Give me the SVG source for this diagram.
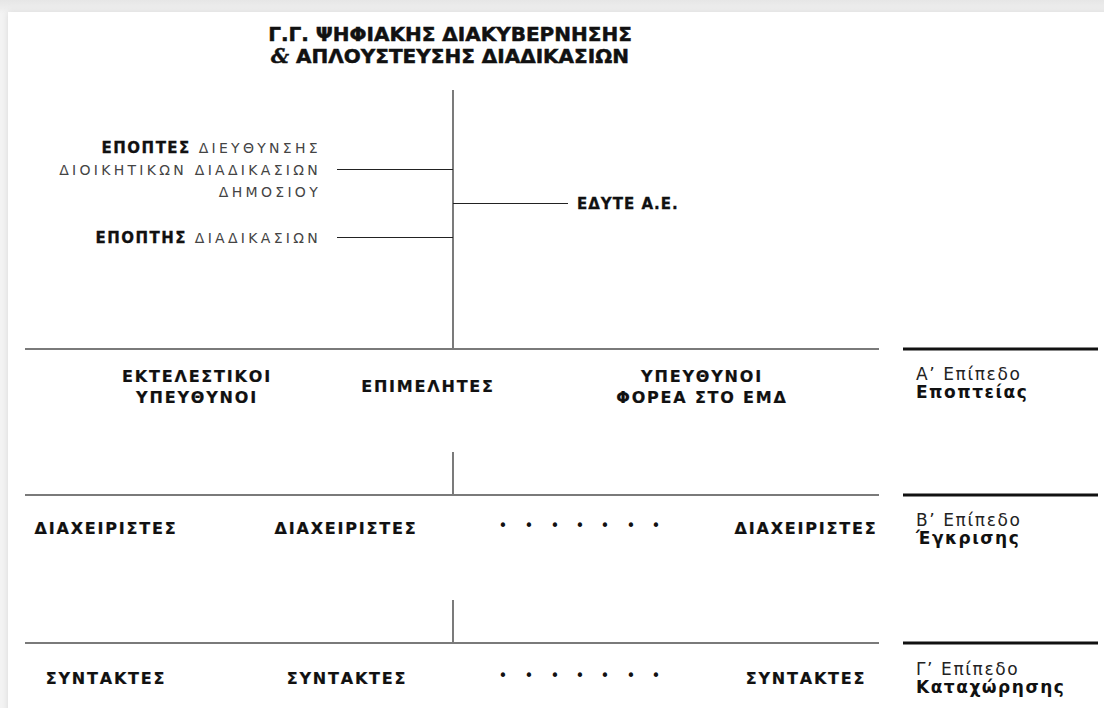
<svg xmlns="http://www.w3.org/2000/svg" width="1104" height="708" viewBox="0 0 1104 708">
  <defs>
    <linearGradient id="topShade" x1="0" y1="0" x2="0" y2="1">
      <stop offset="0" stop-color="#e6e6e6"/>
      <stop offset="1" stop-color="#f3f3f3"/>
    </linearGradient>
    <filter id="soft" x="-5%" y="-5%" width="110%" height="110%">
      <feGaussianBlur stdDeviation="3"/>
    </filter>
  </defs>
  <style>
    .title { font-family: "DejaVu Sans", "Noto Sans", sans-serif; font-weight: bold; font-size: 20px; letter-spacing: 0; fill: #111; stroke: #111; stroke-width: 0.5px; }
    .amp { font-family: "DejaVu Serif", "Liberation Serif", serif; font-style: italic; font-weight: bold; }
    .sup { font-family: "DejaVu Sans", "Noto Sans", sans-serif; font-size: 14px; fill: #444; font-weight: normal; letter-spacing: 3.3px; }
    .sup .b { font-weight: bold; fill: #111; letter-spacing: 1.5px; font-size: 15px; stroke: #111; stroke-width: 0.3px; }
    .edyte { font-family: "DejaVu Sans", sans-serif; font-weight: bold; font-size: 15px; letter-spacing: 1px; fill: #111; stroke: #111; stroke-width: 0.3px; }
    .role { font-family: "DejaVu Sans", sans-serif; font-weight: bold; font-size: 16px; letter-spacing: 1.8px; fill: #111; text-anchor: middle; stroke: #111; stroke-width: 0.2px; }
    .dots { font-family: "DejaVu Sans", sans-serif; font-size: 15px; fill: #111; text-anchor: middle; }
    .lvl { font-family: "DejaVu Sans", "Noto Sans", sans-serif; font-size: 17px; fill: #222; letter-spacing: 1.6px; }
    .lvl .b { font-weight: bold; fill: #111; letter-spacing: 1.5px; }
    .tree { stroke: #222; stroke-width: 1.2; fill: none; }
    .row { stroke: #7a7a7a; stroke-width: 2; fill: none; }
    .lvlbar { stroke: #111; stroke-width: 3; fill: none; }
  </style>

  <!-- page background with a soft card edge -->
  <rect x="0" y="0" width="1104" height="708" fill="#f3f3f3"/>
  <rect x="0" y="0" width="1104" height="14" fill="url(#topShade)"/>
  <rect x="8" y="12" width="1110" height="720" fill="#d8d8d8" filter="url(#soft)"/>
  <rect x="8" y="12" width="1110" height="720" fill="#ffffff"/>

  <!-- connectors -->
  <g id="connectors">
    <line class="tree" x1="453" y1="90" x2="453" y2="349"/>
    <line class="tree" x1="337" y1="169.5" x2="453" y2="169.5"/>
    <line class="tree" x1="337" y1="237.5" x2="453" y2="237.5"/>
    <line class="tree" x1="453" y1="203.5" x2="568" y2="203.5"/>
    <line class="tree" x1="453" y1="452" x2="453" y2="495"/>
    <line class="tree" x1="453" y1="600" x2="453" y2="643"/>
    <line class="row" x1="25" y1="349" x2="879" y2="349"/>
    <line class="row" x1="25" y1="495" x2="879" y2="495"/>
    <line class="row" x1="25" y1="643" x2="879" y2="643"/>
    <line class="lvlbar" x1="903" y1="349" x2="1098" y2="349"/>
    <line class="lvlbar" x1="903" y1="495" x2="1098" y2="495"/>
    <line class="lvlbar" x1="903" y1="643" x2="1098" y2="643"/>
  </g>

  <!-- top authority -->
  <g id="gg">
    <text class="title" x="450" y="41" text-anchor="middle">Γ.Γ. ΨΗΦΙΑΚΗΣ ΔΙΑΚΥΒΕΡΝΗΣΗΣ</text>
    <text class="title" x="450" y="63" text-anchor="middle"><tspan class="amp">&amp;</tspan> ΑΠΛΟΥΣΤΕΥΣΗΣ ΔΙΑΔΙΚΑΣΙΩΝ</text>
  </g>

  <g id="epoptes-dieythynsis">
    <text class="sup" x="321" y="153" text-anchor="end"><tspan class="b">ΕΠΟΠΤΕΣ</tspan> ΔΙΕΥΘΥΝΣΗΣ</text>
    <text class="sup" x="321" y="175" text-anchor="end">ΔΙΟΙΚΗΤΙΚΩΝ ΔΙΑΔΙΚΑΣΙΩΝ</text>
    <text class="sup" x="321" y="197" text-anchor="end">ΔΗΜΟΣΙΟΥ</text>
  </g>

  <g id="epoptis-diadikasion">
    <text class="sup" x="321" y="243" text-anchor="end"><tspan class="b">ΕΠΟΠΤΗΣ</tspan> ΔΙΑΔΙΚΑΣΙΩΝ</text>
  </g>

  <g id="edyte">
    <text class="edyte" x="577" y="209">ΕΔΥΤΕ Α.Ε.</text>
  </g>

  <!-- level A -->
  <g id="ektelestikoi">
    <text class="role" x="197" y="382">ΕΚΤΕΛΕΣΤΙΚΟΙ</text>
    <text class="role" x="197" y="403">ΥΠΕΥΘΥΝΟΙ</text>
  </g>
  <g id="epimelites">
    <text class="role" x="428" y="392">ΕΠΙΜΕΛΗΤΕΣ</text>
  </g>
  <g id="ypeythynoi-forea">
    <text class="role" x="702" y="382">ΥΠΕΥΘΥΝΟΙ</text>
    <text class="role" x="702" y="403">ΦΟΡΕΑ ΣΤΟ ΕΜΔ</text>
  </g>
  <g id="level-a">
    <text class="lvl" x="916" y="380">Α’ Επίπεδο</text>
    <text class="lvl" x="916" y="398"><tspan class="b">Εποπτείας</tspan></text>
  </g>

  <!-- level B -->
  <g id="diaxeiristes-1"><text class="role" x="106" y="534">ΔΙΑΧΕΙΡΙΣΤΕΣ</text></g>
  <g id="diaxeiristes-2"><text class="role" x="346" y="534">ΔΙΑΧΕΙΡΙΣΤΕΣ</text></g>
  <g id="diaxeiristes-more"><text class="dots" x="503 529 555 580 605 631 656" y="531">•••••••</text></g>
  <g id="diaxeiristes-3"><text class="role" x="806" y="534">ΔΙΑΧΕΙΡΙΣΤΕΣ</text></g>
  <g id="level-b">
    <text class="lvl" x="916" y="526">Β’ Επίπεδο</text>
    <text class="lvl" x="916" y="544"><tspan class="b">Έγκρισης</tspan></text>
  </g>

  <!-- level C -->
  <g id="syntaktes-1"><text class="role" x="106" y="684">ΣΥΝΤΑΚΤΕΣ</text></g>
  <g id="syntaktes-2"><text class="role" x="347" y="684">ΣΥΝΤΑΚΤΕΣ</text></g>
  <g id="syntaktes-more"><text class="dots" x="503 529 555 580 605 631 656" y="681">•••••••</text></g>
  <g id="syntaktes-3"><text class="role" x="806" y="684">ΣΥΝΤΑΚΤΕΣ</text></g>
  <g id="level-c">
    <text class="lvl" x="916" y="675">Γ’ Επίπεδο</text>
    <text class="lvl" x="916" y="693"><tspan class="b">Καταχώρησης</tspan></text>
  </g>
</svg>
